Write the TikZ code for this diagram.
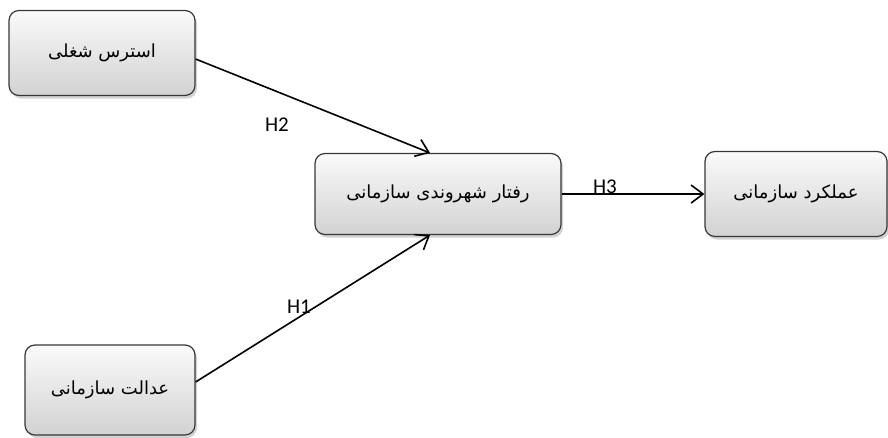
\documentclass[tikz,border=0pt]{standalone}
\usepackage{fontspec}
\usepackage{tikz}
\usetikzlibrary{arrows.meta,shadows}
\TeXXeTstate=1
\setmainfont{Carlito}
\newfontfamily\persianFont[Script=Arabic]{DejaVu Sans}
\definecolor{boxTop}{RGB}{250,250,250}
\definecolor{boxBottom}{RGB}{210,210,210}
\definecolor{boxBorder}{RGB}{55,55,55}
\tikzstyle{modelBox} = [draw=boxBorder, line width=1.2pt, rounded corners=.35cm, top color=boxTop, bottom color=boxBottom, drop shadow={opacity=0.35, shadow xshift=2pt, shadow yshift=-3pt}, font=\persianFont\fontsize{18}{22}\selectfont, align=center, inner sep=0pt]
\tikzstyle{pathArrow} = [line width=1.6pt, -{Straight Barb[length=12pt, width=18pt, line width=1.6pt]}]
\tikzstyle{hypLabel} = [font=\fontsize{21}{25}\selectfont, inner sep=1pt]
\newcommand{\rtl}[1]{\beginR #1\endR}

\begin{document}
\begin{tikzpicture}[x=1pt, y=-1pt]
  \useasboundingbox (0,0) rectangle (888,437);

  % constructs
  \node [modelBox, minimum width=186pt, minimum height=85pt] (stress) at (102,53) {\rtl{استرس شغلی}};
  \node [modelBox, minimum width=170pt, minimum height=90pt] (justice) at (110,390) {\rtl{عدالت سازمانی}};
  \node [modelBox, minimum width=246pt, minimum height=81pt] (citizen) at (438,194) {\rtl{رفتار شهروندی سازمانی}};
  \node [modelBox, minimum width=182pt, minimum height=85pt] (performance) at (796,194) {\rtl{عملکرد سازمانی}};

  % hypotheses
  \draw [pathArrow] ([yshift=-6pt]stress.east) -- ([xshift=-8pt]citizen.north);
  \draw [pathArrow] ([yshift=8pt]justice.east) -- ([xshift=-8pt]citizen.south);
  \draw [pathArrow] (citizen.east) -- (performance.west);

  \node [hypLabel] (h2) at (277,125) {H2};
  \node [hypLabel] (h1) at (299,307) {H1};
  \node [hypLabel] (h3) at (605,187) {H3};
\end{tikzpicture}
\end{document}
